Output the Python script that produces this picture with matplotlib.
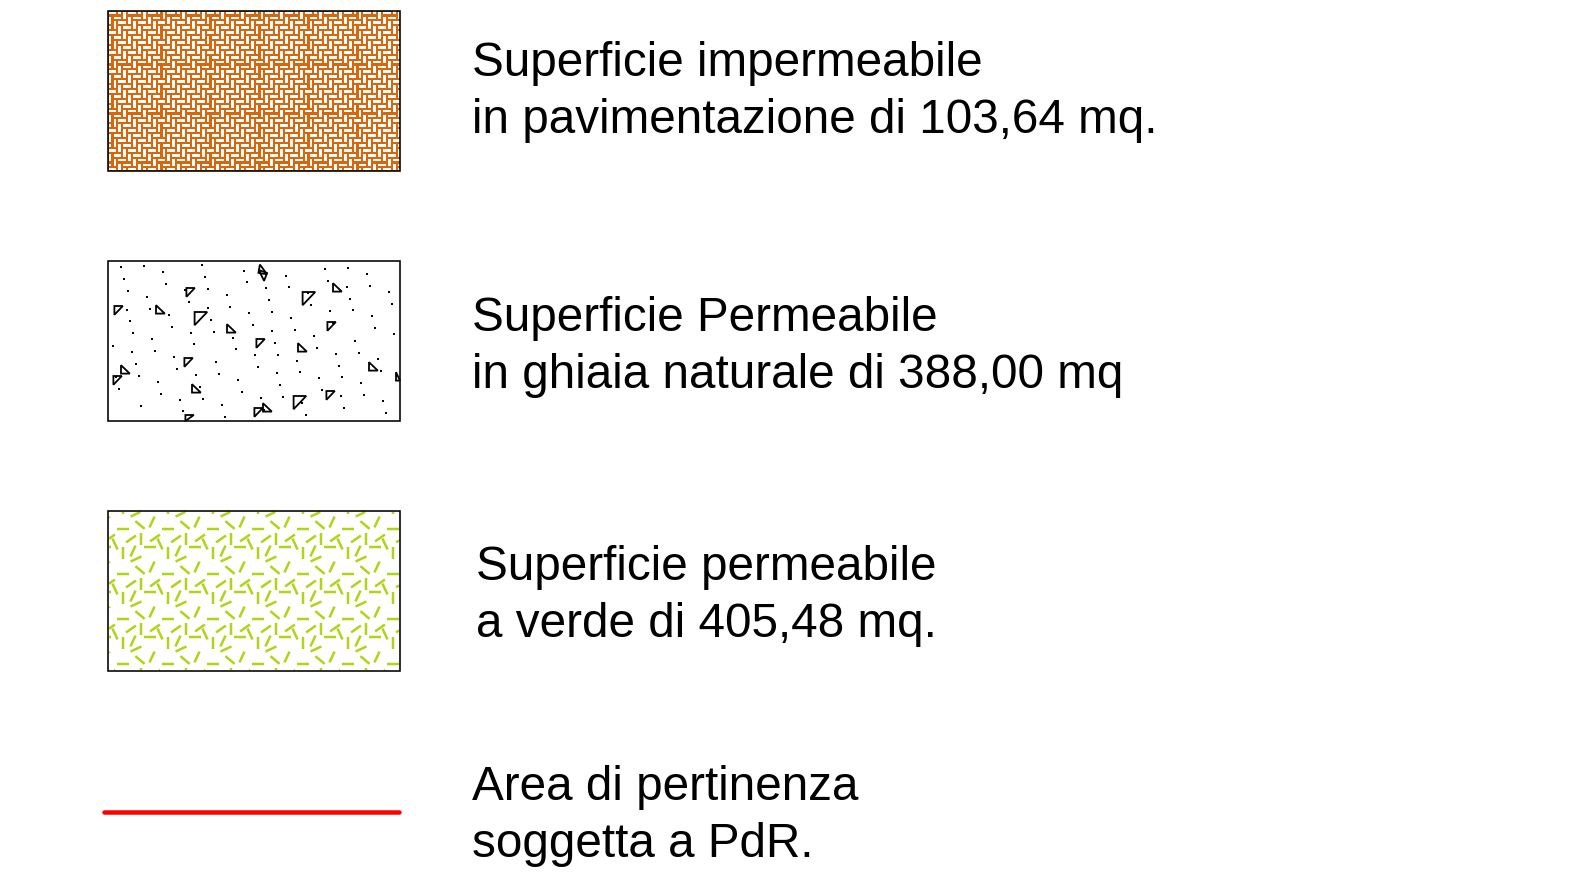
import numpy as np
import matplotlib
matplotlib.use("Agg")
import matplotlib.pyplot as plt
from matplotlib.patches import Rectangle, Polygon
from matplotlib.collections import PolyCollection, LineCollection

# ---- content ----
labels_line1 = ["Superficie impermeabile", "Superficie Permeabile",
                "Superficie permeabile", "Area di pertinenza"]
labels_line2 = ["in pavimentazione di 103,64 mq.", "in ghiaia naturale di 388,00 mq",
                "a verde di 405,48 mq.", "soggetta a PdR."]
kinds = ["paving", "gravel", "grass", "line"]

# ---- texture definitions (decorative) ----
orange = "#d8660c"
lime = "#aed516"
red = "#ff0000"
# gravel triangles: (x, y, size, rotation deg)
gravel_tri = [(263, 270, 8, 10), (262, 275, 8, 200), (190, 292, 8, 90), (337, 288, 8, 0),
              (308, 298, 12, 90), (118, 310, 8, 90), (160, 310, 8, 0), (200, 318, 12, 90),
              (231, 329, 8, 0), (331, 326, 8, 90), (260, 343, 8, 90), (302, 348, 8, 0),
              (188, 362, 8, 90), (125, 370, 8, 0), (117, 380, 8, 90), (373, 367, 8, 0),
              (196, 389, 8, 0), (330, 395, 8, 90), (299, 402, 12, 90), (267, 408, 8, 0),
              (258, 412, 8, 90), (189, 419, 8, 90), (400, 377, 8, 0)]
# grass tile segments (cx, cy, angle deg, image coords with y down), tile 45x45 px
grass_tile = [(15, 18, 0), (32, 14, 40), (44, 11, -65), (7, 33, 65), (23, 28, -35),
              (33, 28, 90), (2, 27, -35), (42, 36, 0), (15, 42, 90), (25, 40, -65),
              (28, 3, -25)]

W, H = 1570, 888
fig = plt.figure(figsize=(W / 100, H / 100), dpi=100)
ax = fig.add_axes([0, 0, 1, 1])
ax.set_xlim(0, W)
ax.set_ylim(H, 0)
ax.axis("off")

PX = 0.72  # points per pixel

box_x0, box_x1 = 108, 400
box_tops = [11, 261, 511]
box_h = 160


def frame(y0):
    ax.add_patch(Rectangle((box_x0, y0), box_x1 - box_x0, box_h, fill=False,
                           edgecolor="black", linewidth=1.6 * PX, zorder=5))


def clip_rect(x0, y0r, x1, y1, bx0, by0, bx1, by1):
    a, b = max(x0, bx0), max(y0r, by0)
    c, d = min(x1, bx1), min(y1, by1)
    if c <= a or d <= b:
        return None
    return [(a, b), (c, b), (c, d), (a, d)]


def clip_seg(p, q, bx0, by0, bx1, by1):
    (x0, y0_), (x1, y1) = p, q
    dx, dy = x1 - x0, y1 - y0_
    t0, t1 = 0.0, 1.0
    for pp, qq in ((-dx, x0 - bx0), (dx, bx1 - x0), (-dy, y0_ - by0), (dy, by1 - y0_)):
        if pp == 0:
            if qq < 0:
                return None
            continue
        r = qq / pp
        if pp < 0:
            t0 = max(t0, r)
        else:
            t1 = min(t1, r)
        if t0 > t1:
            return None
    return [(x0 + t0 * dx, y0_ + t0 * dy), (x0 + t1 * dx, y0_ + t1 * dy)]


# ---- box 1: herringbone paving ----
y0 = box_tops[0]
ax.add_patch(Rectangle((box_x0, y0), box_x1 - box_x0, box_h, facecolor=orange,
                       edgecolor="none", zorder=1))
u = 4.9
g = 1.05
polys = []
B = (box_x0 + 0.5, y0 + 0.5, box_x1 - 0.5, y0 + box_h - 0.5)
for n in range(-10, 70):
    for k in range(-20, 25):
        bx = box_x0 + (n + 2 * k) * u - 20
        by = y0 + (n - 2 * k) * u - 20
        if bx < box_x0 - 20 or bx > box_x1 + 5 or by < y0 - 20 or by > y0 + box_h + 5:
            continue
        r1 = clip_rect(bx + g, by + g, bx + 2 * u - g, by + u - g, *B)
        r2 = clip_rect(bx + g, by + u + g, bx + u - g, by + 3 * u - g, *B)
        for r in (r1, r2):
            if r is not None:
                polys.append(r)
pc = PolyCollection(polys, facecolor="white", edgecolor="none", zorder=2)
ax.add_collection(pc)
frame(y0)

# ---- box 2: gravel ----
y0 = box_tops[1]
for (cx, cy, s, rot) in gravel_tri:
    t = np.deg2rad(rot)
    base = np.array([[-0.5, 0.45], [0.6, 0.45], [-0.5, -0.6]]) * s
    R = np.array([[np.cos(t), -np.sin(t)], [np.sin(t), np.cos(t)]])
    pts = base @ R.T + [cx, cy]
    pts[:, 0] = np.clip(pts[:, 0], box_x0, box_x1)
    pts[:, 1] = np.clip(pts[:, 1], y0, y0 + box_h)
    ax.add_patch(Polygon(pts, closed=True, fill=False, edgecolor="black",
                         linewidth=1.8 * PX, zorder=3))
# small dots (deterministic low-discrepancy layout)
i = np.arange(1, 111)
a1, a2 = 0.7548776662, 0.5698402910
dx = box_x0 + 4 + ((0.3 + i * a1) % 1) * (box_x1 - box_x0 - 8)
dy = y0 + 4 + ((0.6 + i * a2) % 1) * (box_h - 8)
ax.scatter(dx, dy, s=(2.2 * PX) ** 2, c="black", marker="s", linewidths=0, zorder=3)
frame(y0)

# ---- box 3: grass ----
y0 = box_tops[2]
segs = []
L = 12
P = 45
B = (box_x0 + 1, y0 + 1, box_x1 - 1, y0 + box_h - 1)
for tx in range(-1, 8):
    for ty in range(-1, 5):
        for (cx, cy, ang) in grass_tile:
            x = box_x0 + tx * P + cx
            y = y0 + ty * P + cy
            t = np.deg2rad(ang)
            ddx, ddy = np.cos(t) * L / 2, np.sin(t) * L / 2
            s = clip_seg((x - ddx, y - ddy), (x + ddx, y + ddy), *B)
            if s is not None:
                segs.append(s)
lc = LineCollection(segs, colors=lime, linewidths=2.5 * PX, zorder=2, capstyle="butt")
ax.add_collection(lc)
frame(y0)

# ---- red boundary line ----
ax.plot([104, 399], [812, 812], color=red, linewidth=4.5 * PX,
        solid_capstyle="round", zorder=4)

# ---- texts ----
text_x = [472.5, 472.5, 475.5, 472.5]
base1 = [76, 331, 580, 800]
base2 = [133, 388, 637, 857]
fs = 34.3
for k in range(4):
    ax.text(text_x[k], base1[k], labels_line1[k], fontsize=fs,
            family=["Liberation Sans", "DejaVu Sans"], va="baseline", ha="left",
            color="black")
    ax.text(text_x[k], base2[k], labels_line2[k], fontsize=fs,
            family=["Liberation Sans", "DejaVu Sans"], va="baseline", ha="left",
            color="black")

fig.savefig("out.png", dpi=100, facecolor="white")
